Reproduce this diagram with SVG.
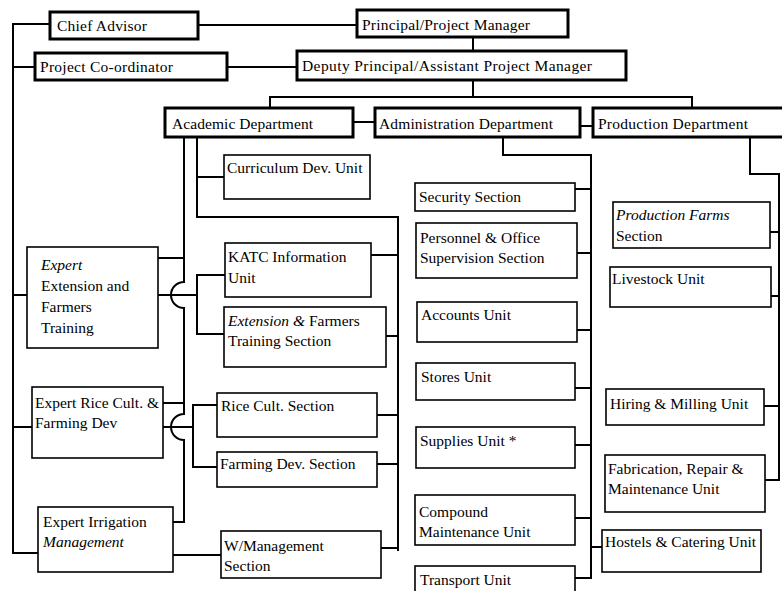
<svg xmlns="http://www.w3.org/2000/svg" width="782" height="591" viewBox="0 0 782 591">
  <style>
    .bg { fill: #ffffff; }
    .main rect { fill: #ffffff; stroke: #000000; stroke-width: 3; }
    .unit rect { fill: #ffffff; stroke: #000000; stroke-width: 1.6; }
    text { font-family: "Liberation Serif", "Times New Roman", serif; fill: #000000; }
    .main text { font-size: 15.5px; }
    .unit text { font-size: 15.5px; }
    .it { font-style: italic; }
    #connectors path { fill: none; stroke: #000000; stroke-width: 2; stroke-linecap: square; stroke-linejoin: miter; }
  </style>
  <rect class="bg" x="0" y="0" width="782" height="591"/>

  <!-- connectors -->
  <g id="connectors">
    <!-- left spine to advisors and experts -->
    <path d="M50,24 H13 V553 H38"/>
    <path d="M13,67 H35"/>
    <path d="M13,295 H27"/>
    <path d="M13,427 H32"/>
    <!-- top management -->
    <path d="M198,25 H357"/>
    <path d="M473,37 V51"/>
    <path d="M227,67 H297"/>
    <path d="M473,80 V97"/>
    <path d="M270,108 V97 H692 V108"/>
    <path d="M353,122 H375"/>
    <path d="M580,126 H593"/>
    <!-- academic department: section spine -->
    <path d="M197,137 V217 H398 V550"/>
    <path d="M197,177 H224"/>
    <path d="M371,255 H398"/>
    <path d="M386,336 H398"/>
    <path d="M377,415 H398"/>
    <path d="M377,464 H398"/>
    <path d="M381,548 H398"/>
    <!-- academic department: expert spine with line hops -->
    <path d="M184,137 V282 A13,13 0 0 0 184,308 V414 A13,13 0 0 0 184,440 V522 H173"/>
    <path d="M158,258 H184"/>
    <path d="M163,403 H184"/>
    <!-- experts to their sections -->
    <path d="M158,295 H197"/>
    <path d="M197,275 V334"/>
    <path d="M197,275 H225"/>
    <path d="M197,334 H224"/>
    <path d="M163,427 H193"/>
    <path d="M193,405 V467"/>
    <path d="M193,405 H217"/>
    <path d="M193,467 H217"/>
    <path d="M173,555 H221"/>
    <!-- administration department -->
    <path d="M503,137 V155 H591 V578"/>
    <path d="M575,189 H591"/>
    <path d="M577,253 H591"/>
    <path d="M577,330 H591"/>
    <path d="M575,388 H591"/>
    <path d="M575,445 H591"/>
    <path d="M575,518 H591"/>
    <path d="M575,578 H591"/>
    <path d="M591,547 H602"/>
    <!-- production department -->
    <path d="M750,137 V174 H779 V480"/>
    <path d="M770,232 H779"/>
    <path d="M771,296 H779"/>
    <path d="M764,406 H779"/>
    <path d="M765,480 H779"/>
  </g>

  <!-- management -->
  <g id="chief-advisor" class="main">
    <rect x="50" y="12" width="148" height="27"/>
    <text x="57" y="31" textLength="90" lengthAdjust="spacing">Chief Advisor</text>
  </g>
  <g id="principal" class="main">
    <rect x="357" y="10" width="211" height="27"/>
    <text x="362" y="30" textLength="168" lengthAdjust="spacing">Principal/Project Manager</text>
  </g>
  <g id="project-coordinator" class="main">
    <rect x="35" y="53" width="192" height="27"/>
    <text x="40" y="72" textLength="133" lengthAdjust="spacing">Project Co-ordinator</text>
  </g>
  <g id="deputy-principal" class="main">
    <rect x="297" y="51" width="329" height="29"/>
    <text x="302" y="71" textLength="290" lengthAdjust="spacing">Deputy Principal/Assistant Project Manager</text>
  </g>

  <!-- departments -->
  <g id="academic-dept" class="main">
    <rect x="165" y="108" width="188" height="29"/>
    <text x="172" y="129" textLength="141" lengthAdjust="spacing">Academic Department</text>
  </g>
  <g id="admin-dept" class="main">
    <rect x="375" y="108" width="205" height="29"/>
    <text x="379" y="129" textLength="174" lengthAdjust="spacing">Administration Department</text>
  </g>
  <g id="production-dept" class="main">
    <rect x="593" y="108" width="200" height="29"/>
    <text x="598" y="129" textLength="150" lengthAdjust="spacing">Production Department</text>
  </g>

  <!-- academic units -->
  <g id="curriculum-unit" class="unit">
    <rect x="224" y="155" width="146" height="44"/>
    <text x="227" y="173">Curriculum Dev. Unit</text>
  </g>
  <g id="expert-extension" class="unit">
    <rect x="27" y="247" width="131" height="101"/>
    <text x="41" y="270" class="it">Expert</text>
    <text x="41" y="291">Extension and</text>
    <text x="41" y="312">Farmers</text>
    <text x="41" y="333">Training</text>
  </g>
  <g id="katc-info-unit" class="unit">
    <rect x="225" y="243" width="146" height="54"/>
    <text x="228" y="262">KATC Information</text>
    <text x="228" y="283">Unit</text>
  </g>
  <g id="extension-section" class="unit">
    <rect x="224" y="307" width="162" height="60"/>
    <text x="228" y="326"><tspan class="it">Extension &amp;</tspan> Farmers</text>
    <text x="228" y="346">Training Section</text>
  </g>
  <g id="expert-rice" class="unit">
    <rect x="32" y="387" width="131" height="71"/>
    <text x="35" y="408">Expert Rice Cult. &amp;</text>
    <text x="35" y="428">Farming Dev</text>
  </g>
  <g id="rice-section" class="unit">
    <rect x="217" y="393" width="160" height="44"/>
    <text x="221" y="411">Rice Cult. Section</text>
  </g>
  <g id="farming-section" class="unit">
    <rect x="217" y="452" width="160" height="35"/>
    <text x="220" y="469">Farming Dev. Section</text>
  </g>
  <g id="expert-irrigation" class="unit">
    <rect x="38" y="507" width="135" height="65"/>
    <text x="43" y="527">Expert Irrigation</text>
    <text x="43" y="547" class="it">Management</text>
  </g>
  <g id="water-section" class="unit">
    <rect x="221" y="531" width="160" height="47"/>
    <text x="224" y="551">W/Management</text>
    <text x="224" y="571">Section</text>
  </g>

  <!-- administration units -->
  <g id="security-section" class="unit">
    <rect x="415" y="183" width="160" height="28"/>
    <text x="419" y="202">Security Section</text>
  </g>
  <g id="personnel-section" class="unit">
    <rect x="416" y="223" width="161" height="55"/>
    <text x="420" y="243">Personnel &amp; Office</text>
    <text x="420" y="263">Supervision Section</text>
  </g>
  <g id="accounts-unit" class="unit">
    <rect x="417" y="302" width="160" height="40"/>
    <text x="421" y="320">Accounts Unit</text>
  </g>
  <g id="stores-unit" class="unit">
    <rect x="416" y="363" width="159" height="37"/>
    <text x="421" y="382">Stores Unit</text>
  </g>
  <g id="supplies-unit" class="unit">
    <rect x="416" y="427" width="159" height="41"/>
    <text x="420" y="446">Supplies Unit *</text>
  </g>
  <g id="compound-unit" class="unit">
    <rect x="415" y="495" width="160" height="50"/>
    <text x="419" y="517">Compound</text>
    <text x="419" y="537">Maintenance Unit</text>
  </g>
  <g id="transport-unit" class="unit">
    <rect x="415" y="566" width="160" height="40"/>
    <text x="420" y="585">Transport Unit</text>
  </g>

  <!-- production units -->
  <g id="production-farms" class="unit">
    <rect x="613" y="202" width="157" height="46"/>
    <text x="616" y="220" class="it">Production Farms</text>
    <text x="616" y="241">Section</text>
  </g>
  <g id="livestock-unit" class="unit">
    <rect x="610" y="267" width="161" height="40"/>
    <text x="612" y="284">Livestock Unit</text>
  </g>
  <g id="hiring-unit" class="unit">
    <rect x="606" y="389" width="158" height="36"/>
    <text x="610" y="409">Hiring &amp; Milling Unit</text>
  </g>
  <g id="fabrication-unit" class="unit">
    <rect x="605" y="455" width="160" height="57"/>
    <text x="608" y="474">Fabrication, Repair &amp;</text>
    <text x="608" y="494">Maintenance Unit</text>
  </g>
  <g id="hostels-unit" class="unit">
    <rect x="602" y="530" width="159" height="42"/>
    <text x="605" y="547">Hostels &amp; Catering Unit</text>
  </g>
</svg>
